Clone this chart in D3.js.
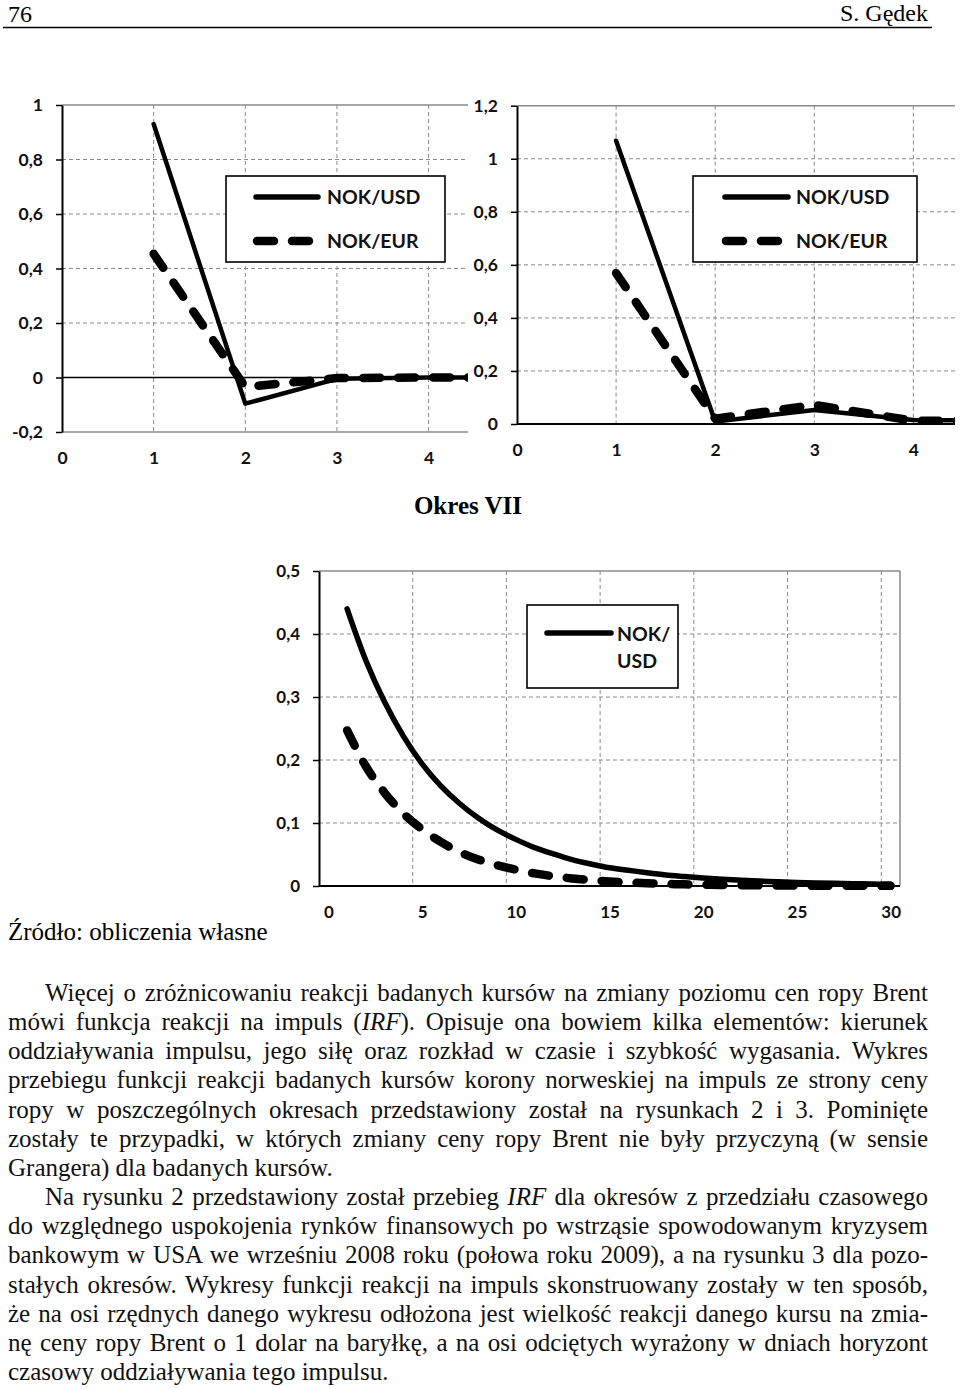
<!DOCTYPE html>
<html><head><meta charset="utf-8">
<script src="https://cdn.jsdelivr.net/npm/d3@7"></script>
<style>
body{margin:0;background:#fff}
svg{display:block}
</style></head><body>
<script>
// ---------------- DATA ----------------
const seriesNames = ["NOK/USD", "NOK/EUR"];
const topX = [1, 2, 3, 4, 5];
const leftUSD = [0.93, -0.096, -0.005, 0, 0];
const leftEUR = [0.454, -0.035, -0.002, 0, 0];
const rightUSD = [1.068, 0.009, 0.053, 0.015, 0.012];
const rightEUR = [0.569, 0.02, 0.072, 0.012, 0.012];
const leftYTicks = [-0.2, 0, 0.2, 0.4, 0.6, 0.8, 1];
const rightYTicks = [0, 0.2, 0.4, 0.6, 0.8, 1, 1.2];
const topXTicks = [0, 1, 2, 3, 4];

const botX = [1,2,3,4,5,6,7,8,9,10,11,12,13,14,15,16,17,18,19,20,21,22,23,24,25,26,27,28,29,30];
const botUSD = [0.44,0.358,0.292,0.238,0.194,0.159,0.131,0.108,0.089,0.074,0.061,0.051,0.042,0.035,0.029,0.025,0.021,0.0175,0.015,0.0127,0.0108,0.0092,0.0078,0.0067,0.0057,0.0049,0.0042,0.0036,0.0031,0.0027];
const botEUR = [0.247,0.19,0.148,0.115,0.09,0.07,0.054,0.042,0.033,0.026,0.02,0.0155,0.012,0.0093,0.0072,0.0056,0.0044,0.0034,0.0026,0.002,0.0016,0.0012,0.001,0.0008,0.0006,0.0005,0.0004,0.0003,0.0002,0.0002];
const botYTicks = [0, 0.1, 0.2, 0.3, 0.4, 0.5];
const botXTicks = [0, 5, 10, 15, 20, 25, 30];

const headerLeft = "76";
const headerRight = "S. Gędek";
const chartTitle = "Okres VII";
const sourceNote = "Źródło: obliczenia własne";
const bodyLines = [
  {t: "Więcej o zróżnicowaniu reakcji badanych kursów na zmiany poziomu cen ropy Brent", indent: true, just: true},
  {t: "mówi funkcja reakcji na impuls (*IRF*). Opisuje ona bowiem kilka elementów: kierunek", just: true},
  {t: "oddziaływania impulsu, jego siłę oraz rozkład w czasie i szybkość wygasania. Wykres", just: true},
  {t: "przebiegu funkcji reakcji badanych kursów korony norweskiej na impuls ze strony ceny", just: true},
  {t: "ropy w poszczególnych okresach przedstawiony został na rysunkach 2 i 3. Pominięte", just: true},
  {t: "zostały te przypadki, w których zmiany ceny ropy Brent nie były przyczyną (w sensie", just: true},
  {t: "Grangera) dla badanych kursów.", just: false},
  {t: "Na rysunku 2 przedstawiony został przebieg *IRF* dla okresów z przedziału czasowego", indent: true, just: true},
  {t: "do względnego uspokojenia rynków finansowych po wstrząsie spowodowanym kryzysem", just: true},
  {t: "bankowym w USA we wrześniu 2008 roku (połowa roku 2009), a na rysunku 3 dla pozo-", just: true},
  {t: "stałych okresów. Wykresy funkcji reakcji na impuls skonstruowany zostały w ten sposób,", just: true},
  {t: "że na osi rzędnych danego wykresu odłożona jest wielkość reakcji danego kursu na zmia-", just: true},
  {t: "nę ceny ropy Brent o 1 dolar na baryłkę, a na osi odciętych wyrażony w dniach horyzont", just: true},
  {t: "czasowy oddziaływania tego impulsu.", just: false}
];

// ---------------- DRAW ----------------
const W = 960, H = 1389;
const svg = d3.select("body").append("svg").attr("width", W).attr("height", H);
svg.append("rect").attr("width", W).attr("height", H).attr("fill", "#fff");

const CF = "Lato, 'Open Sans', sans-serif";
const SF = "'Liberation Serif', 'Times New Roman', serif";
const fmt = d => String(d).replace(".", ",");
const GRID = "#8a8a8a";

// header
svg.append("text").attr("x", 8).attr("y", 22).attr("font-family", SF).attr("font-size", 24).text(headerLeft);
svg.append("text").attr("x", 928).attr("y", 21).attr("text-anchor", "end").attr("font-family", SF).attr("font-size", 24).text(headerRight);
svg.append("line").attr("x1", 3).attr("x2", 932).attr("y1", 27.5).attr("y2", 27.5).attr("stroke", "#000").attr("stroke-width", 1.6);

let clipId = 0;
function drawChart(o) {
  const g = svg.append("g");
  const x = d3.scaleLinear().domain(o.xDomain).range(o.xRange);
  const y = d3.scaleLinear().domain(o.yDomain).range(o.yRange);
  const [x0, x1] = o.xRange, [yb, yt] = o.yRange;

  g.append("g").selectAll("line").data(o.yTicks.filter(v => v !== o.yDomain[0] && v !== o.yDomain[1] && v !== o.zeroLine))
    .join("line").attr("x1", x0).attr("x2", x1).attr("y1", d => y(d)).attr("y2", d => y(d))
    .attr("stroke", GRID).attr("stroke-width", 1).attr("stroke-dasharray", "4,3");
  g.append("g").selectAll("line").data(o.xGrid)
    .join("line").attr("x1", d => x(d)).attr("x2", d => x(d)).attr("y1", yt).attr("y2", yb)
    .attr("stroke", GRID).attr("stroke-width", 1).attr("stroke-dasharray", "4,3");
  g.append("line").attr("x1", x0).attr("x2", x1).attr("y1", y(o.yDomain[1])).attr("y2", y(o.yDomain[1]))
    .attr("stroke", "#8a8a8a").attr("stroke-width", 1.5);
  if (o.rightBorder) g.append("line").attr("x1", x1).attr("x2", x1).attr("y1", yt).attr("y2", yb)
    .attr("stroke", "#8a8a8a").attr("stroke-width", 1.5);
  g.append("line").attr("x1", x0).attr("x2", x1).attr("y1", yb).attr("y2", yb)
    .attr("stroke", o.bottomBlack ? "#000" : "#8a8a8a").attr("stroke-width", o.bottomBlack ? 2 : 1.5);
  if (o.zeroLine !== undefined) g.append("line").attr("x1", x0).attr("x2", x1).attr("y1", y(o.zeroLine)).attr("y2", y(o.zeroLine))
    .attr("stroke", "#000").attr("stroke-width", 1.5);

  const ya = g.append("g").attr("transform", `translate(${x0},0)`)
    .call(d3.axisLeft(y).tickValues(o.yTicks).tickFormat(fmt).tickSize(6).tickSizeOuter(0).tickPadding(13));
  ya.select(".domain").attr("stroke", "#000").attr("stroke-width", 2);
  ya.selectAll(".tick line").attr("stroke", "#000").attr("stroke-width", 1.5);
  ya.selectAll("text").attr("font-family", CF).attr("font-weight", "bold").attr("font-size", o.fs).attr("fill", "#111");

  const xa = g.append("g").attr("transform", `translate(0,${yb})`)
    .call(d3.axisBottom(x).tickValues(o.xTicks).tickFormat(fmt).tickSize(0).tickPadding(o.xPad));
  xa.select(".domain").remove();
  xa.selectAll("text").attr("font-family", CF).attr("font-weight", "bold").attr("font-size", o.fs).attr("fill", "#111");

  const id = "clip" + (clipId++);
  svg.append("clipPath").attr("id", id).append("rect")
    .attr("x", x0).attr("y", yt - 10).attr("width", x1 - x0).attr("height", yb - yt + 20);
  const lg = g.append("g").attr("clip-path", `url(#${id})`);
  const line = d3.line().x(d => x(d[0])).y(d => y(d[1])).curve(o.curve || d3.curveLinear);
  lg.append("path").datum(o.xs.map((v, i) => [v, o.usd[i]])).attr("d", line)
    .attr("fill", "none").attr("stroke", "#000").attr("stroke-width", o.solidW)
    .attr("stroke-linecap", "round").attr("stroke-linejoin", "round");
  lg.append("path").datum(o.xs.map((v, i) => [v, o.eur[i]])).attr("d", line)
    .attr("fill", "none").attr("stroke", "#000").attr("stroke-width", 8.5)
    .attr("stroke-dasharray", "17,18").attr("stroke-linecap", "round").attr("stroke-linejoin", "round");

  const L = o.legend;
  g.append("rect").attr("x", L.x).attr("y", L.y).attr("width", L.w).attr("height", L.h)
    .attr("fill", "#fff").attr("stroke", "#000").attr("stroke-width", 1.6);
  L.items.forEach(it => {
    g.append("line").attr("x1", it.lx1).attr("x2", it.lx2).attr("y1", it.ly).attr("y2", it.ly)
      .attr("stroke", "#000").attr("stroke-width", it.dashed ? 8.5 : 5.5).attr("stroke-linecap", "round")
      .attr("stroke-dasharray", it.dashed ? "17,18" : null);
    const t = g.append("text").attr("x", it.tx).attr("y", it.ty).attr("font-family", CF)
      .attr("font-weight", "bold").attr("font-size", 19.5).attr("fill", "#111");
    it.lines.forEach((s, k) => t.append("tspan").attr("x", it.tx).attr("dy", k === 0 ? 0 : 26.5).text(s));
  });
}

drawChart({
  xDomain: [0, 4.43], xRange: [62, 468], yDomain: [-0.2, 1], yRange: [432, 105],
  yTicks: leftYTicks, xTicks: topXTicks, xGrid: topXTicks.filter(v => v > 0), zeroLine: 0,
  xPad: 19.5, fs: 17.5, solidW: 4.5, xs: topX, usd: leftUSD, eur: leftEUR,
  legend: {x: 226, y: 176, w: 219, h: 86, items: [
    {lx1: 256, lx2: 318, ly: 197, tx: 327, ty: 204, lines: [seriesNames[0]]},
    {lx1: 257, lx2: 310, ly: 241, tx: 327, ty: 247.5, lines: [seriesNames[1]], dashed: true}
  ]}
});

drawChart({
  xDomain: [0, 4.42], xRange: [517, 955], yDomain: [0, 1.2], yRange: [424, 105.7],
  yTicks: rightYTicks, xTicks: topXTicks, xGrid: topXTicks.filter(v => v > 0), bottomBlack: true,
  xPad: 19.5, fs: 17.5, solidW: 4.5, xs: topX, usd: rightUSD, eur: rightEUR,
  legend: {x: 693, y: 176, w: 224, h: 86, items: [
    {lx1: 725, lx2: 788, ly: 197, tx: 796, ty: 204, lines: [seriesNames[0]]},
    {lx1: 726, lx2: 779, ly: 241, tx: 796, ty: 247.5, lines: [seriesNames[1]], dashed: true}
  ]}
});

svg.append("text").attr("x", 468).attr("y", 514).attr("text-anchor", "middle").attr("font-family", SF)
  .attr("font-weight", "bold").attr("font-size", 25).text(chartTitle);

drawChart({
  xDomain: [-0.5, 30.5], xRange: [319, 900], yDomain: [0, 0.5], yRange: [886, 571],
  yTicks: botYTicks, xTicks: botXTicks, xGrid: botXTicks.filter(v => v > 0).map(v => v - 0.5),
  bottomBlack: true, rightBorder: true, curve: d3.curveMonotoneX,
  xPad: 19.5, fs: 17, solidW: 5.5, xs: botX, usd: botUSD, eur: botEUR,
  legend: {x: 527, y: 605, w: 151, h: 83, items: [
    {lx1: 547, lx2: 611, ly: 633, tx: 617, ty: 641, lines: ["NOK/", "USD"]}
  ]}
});

svg.append("text").attr("x", 8).attr("y", 940).attr("font-family", SF).attr("font-size", 25).text(sourceNote);

const body = svg.append("g").attr("font-family", SF).attr("font-size", 25).attr("fill", "#111");
bodyLines.forEach((ln, i) => {
  const x = ln.indent ? 45 : 8;
  const t = body.append("text").attr("x", x).attr("y", 1001 + i * 29.15);
  ln.t.split("*").forEach((p, k) => {
    if (p.length) t.append("tspan").attr("font-style", k % 2 ? "italic" : null).text(p);
  });
  if (ln.just) {
    const w = t.node().getComputedTextLength();
    const n = ln.t.split(" ").length - 1;
    t.attr("word-spacing", ((928 - x) - w) / n);
  }
});
</script>
</body></html>
